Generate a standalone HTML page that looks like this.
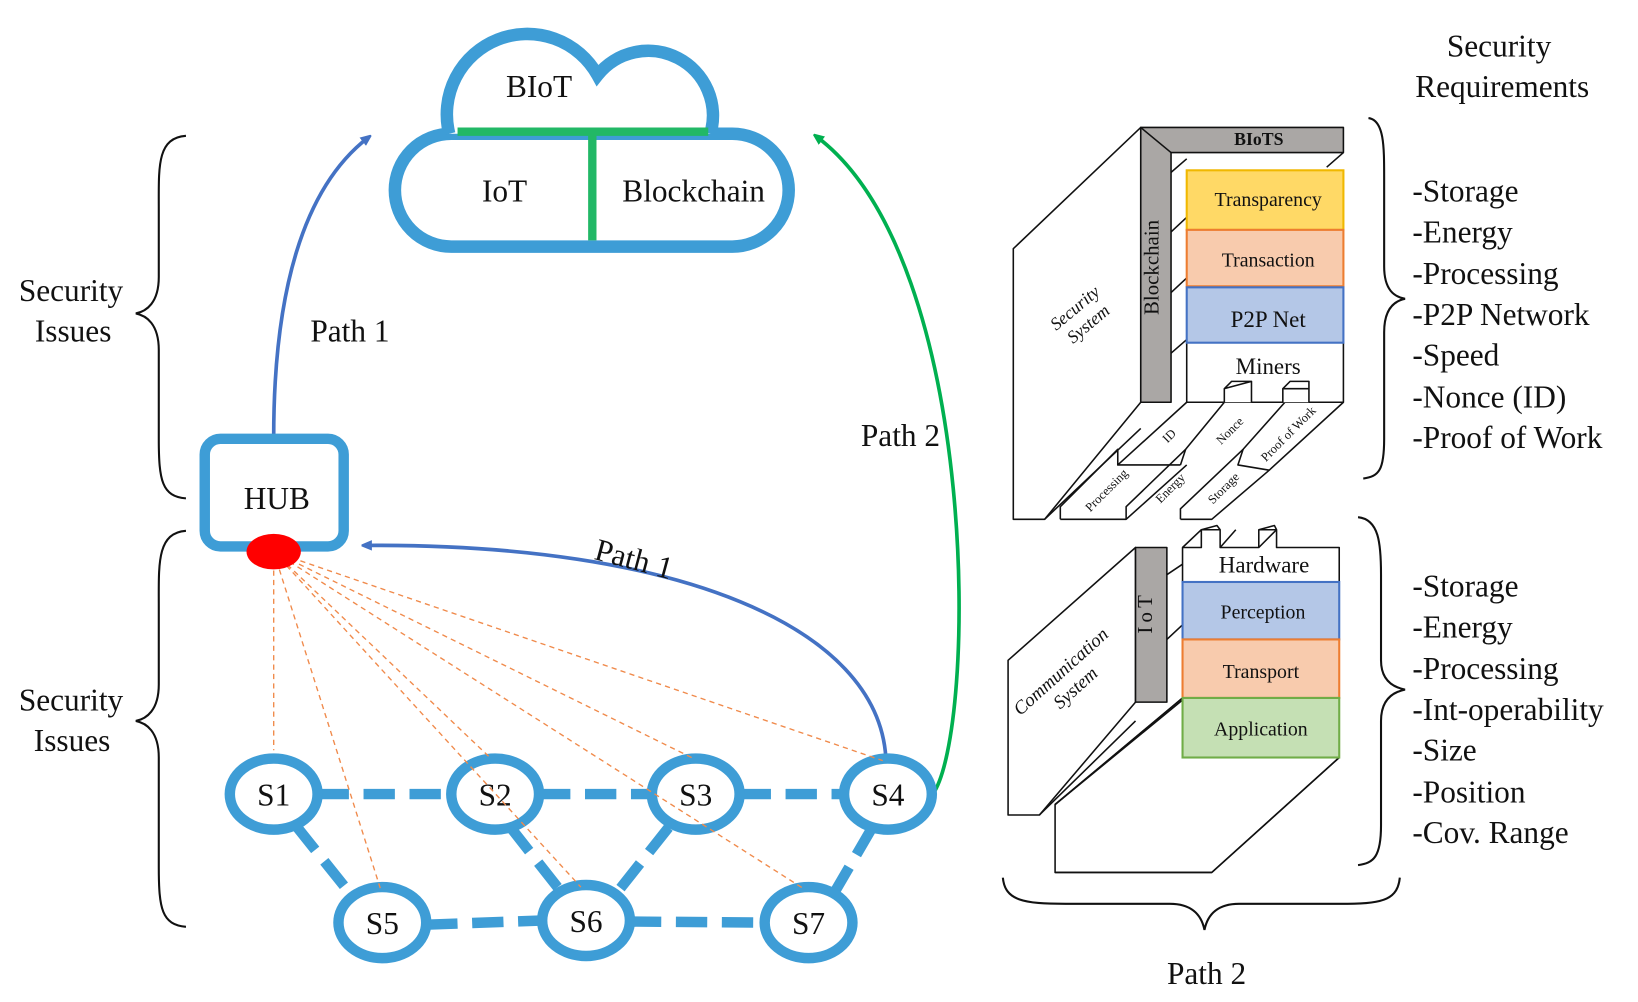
<!DOCTYPE html>
<html><head><meta charset="utf-8"><style>
html,body{margin:0;padding:0;background:#fff;}
svg{display:block;}
text{font-family:"Liberation Serif",serif;fill:#111;}
</style></head><body>
<svg width="1638" height="1002" viewBox="0 0 1568 959" preserveAspectRatio="none" xmlns="http://www.w3.org/2000/svg">
<defs>
<marker id="ab" markerWidth="10" markerHeight="10" refX="6" refY="5" orient="auto" markerUnits="userSpaceOnUse"><path d="M0,0 L12,5 L0,10 Z" fill="#4472c4"/></marker>
<marker id="ag" markerWidth="10" markerHeight="10" refX="6" refY="5" orient="auto" markerUnits="userSpaceOnUse"><path d="M0,0 L12,5 L0,10 Z" fill="#00b050"/></marker>
</defs>
<!-- cloud -->
<g fill="none" stroke="#3e9dd6" stroke-width="12">
<rect x="378" y="128" width="377" height="108" rx="54" fill="#fff"/>
<path d="M430,128 A77,77 0 0 1 572,72 A62,62 0 0 1 680,128" fill="#fff"/>
</g>
<path d="M438,126 L678,126 M567,126 L567,230" stroke="#22b866" stroke-width="8" fill="none"/>
<text x="516" y="93" font-size="30" text-anchor="middle">BIoT</text>
<text x="483" y="193" font-size="30" text-anchor="middle">IoT</text>
<text x="664" y="193" font-size="30" text-anchor="middle">Blockchain</text>
<!-- arrows -->
<path d="M262,418 C262,280 290,180 352,132" stroke="#4472c4" stroke-width="3.5" fill="none" marker-end="url(#ab)"/>
<path d="M848,725 C840,600 650,520 350,522" stroke="#4472c4" stroke-width="3.5" fill="none" marker-end="url(#ab)"/>
<path d="M893,760 C935,700 940,250 782,131" stroke="#00b050" stroke-width="3.5" fill="none" marker-end="url(#ag)"/>
<!-- HUB -->
<rect x="196" y="420" width="133" height="103" rx="15" fill="#fff" stroke="#3e9dd6" stroke-width="10"/>
<text x="265" y="487" font-size="30" text-anchor="middle">HUB</text>
<!-- dashed links -->
<g stroke="#3e9dd6" stroke-width="10" stroke-dasharray="30,14" fill="none">
<path d="M304,760 L432,760"/><path d="M516,760 L624,760"/><path d="M708,760 L808,760"/>
<path d="M283,790 L335,855"/><path d="M408,885 L519,881"/><path d="M603,882 L732,883"/>
<path d="M488,791 L536,852"/><path d="M640,792 L590,855"/><path d="M835,792 L800,852"/>
</g>
<!-- nodes -->
<g fill="#fff" stroke="#3e9dd6" stroke-width="10">
<ellipse cx="262" cy="760" rx="42" ry="34"/><ellipse cx="474" cy="760" rx="42" ry="34"/>
<ellipse cx="666" cy="760" rx="42" ry="34"/><ellipse cx="850" cy="760" rx="42" ry="34"/>
<ellipse cx="366" cy="883" rx="42" ry="34"/><ellipse cx="561" cy="881" rx="42" ry="34"/>
<ellipse cx="774" cy="883" rx="42" ry="34"/>
</g>
<g font-size="30" text-anchor="middle">
<text x="262" y="771">S1</text><text x="474" y="771">S2</text><text x="666" y="771">S3</text><text x="850" y="771">S4</text>
<text x="366" y="894">S5</text><text x="561" y="892">S6</text><text x="774" y="894">S7</text>
</g>
<!-- orange rays -->
<g stroke="#f08a4b" stroke-width="1.3" stroke-dasharray="5,4" fill="none">
<path d="M262,528 L262,718"/><path d="M262,528 L364,850"/><path d="M262,528 L470,726"/>
<path d="M262,528 L556,849"/><path d="M262,528 L664,726"/><path d="M262,528 L770,851"/><path d="M262,528 L845,728"/>
</g>
<ellipse cx="262" cy="528" rx="26" ry="17" fill="#f00"/>
<!-- labels -->
<text x="335" y="327" font-size="30" text-anchor="middle">Path 1</text>
<text x="607" y="545" font-size="30" text-anchor="middle" transform="rotate(15 607 535)">Path 1</text>
<text x="862" y="427" font-size="30" text-anchor="middle">Path 2</text>
<text x="1155" y="942" font-size="30" text-anchor="middle">Path 2</text>
<g font-size="30" text-anchor="middle">
<text x="68" y="288">Security</text><text x="70" y="327">Issues</text>
<text x="68" y="680">Security</text><text x="69" y="719">Issues</text>
<text x="1435" y="54">Security</text><text x="1438" y="93">Requirements</text>
</g>
<g font-size="30">
<text x="1352" y="193">-Storage</text><text x="1352" y="232">-Energy</text><text x="1352" y="272">-Processing</text>
<text x="1352" y="311">-P2P Network</text><text x="1352" y="350">-Speed</text><text x="1352" y="390">-Nonce (ID)</text>
<text x="1352" y="429">-Proof of Work</text>
<text x="1352" y="571">-Storage</text><text x="1352" y="610">-Energy</text><text x="1352" y="650">-Processing</text>
<text x="1352" y="689">-Int-operability</text><text x="1352" y="728">-Size</text><text x="1352" y="768">-Position</text>
<text x="1352" y="807">-Cov. Range</text>
</g>
<!-- braces -->
<g stroke="#111" stroke-width="2" fill="none">
<path d="M178,130 C150,132 152,160 152,200 L152,265 C152,290 140,298 130,300 C140,302 152,310 152,335 L152,420 C152,460 155,475 178,477"/>
<path d="M178,508 C150,510 152,540 152,580 L152,655 C152,680 140,688 130,690 C140,692 152,700 152,725 L152,830 C152,870 155,885 178,887"/>
<path d="M1310,113 C1325,115 1325,140 1325,170 L1325,255 C1325,278 1335,284 1345,286 C1335,288 1325,295 1325,318 L1325,420 C1325,450 1320,456 1305,458"/>
<path d="M1300,495 C1320,497 1322,520 1322,550 L1322,632 C1322,652 1335,658 1345,660 C1335,662 1322,668 1322,690 L1322,790 C1322,820 1315,826 1300,828"/>
<path d="M960,840 C962,862 980,865 1020,865 L1120,865 C1140,865 1150,875 1153,890 C1156,875 1166,865 1186,865 L1290,865 C1325,865 1338,860 1340,840"/>
</g>
<!-- top 3D block -->
<g stroke="#111" stroke-width="1.5" stroke-linejoin="round">
<path d="M970,238 L1092,122 L1092,385 L1000,497 L970,497 Z" fill="#fff"/>
<path d="M1000,497 L1092,410" fill="none"/>
<path d="M1015,497 L1015,485 L1070,430 L1070,445 L1136,385" fill="none"/>
<path d="M1015,497 L1078,497 L1136,445" fill="#fff"/>
<path d="M1078,497 L1078,485 L1135,430 L1172,385 M1130,497 L1130,487 L1190,430 L1230,385" fill="none"/>
<path d="M1130,497 L1160,497 L1215,450 L1286,385" fill="none"/>
<path d="M1070,445 L1130,445 M1135,430 L1130,445 M1190,430 L1185,445 L1215,450" fill="none"/>
<path d="M1121,165 L1136,152 M1121,222 L1136,208 M1121,280 L1136,266 M1121,338 L1136,325 M1270,160 L1286,146" fill="none"/>
<path d="M1092,122 L1286,122 L1286,146 L1121,146 L1121,385 L1092,385 Z" fill="#aaa7a5"/>
<path d="M1092,122 L1121,146" fill="none"/>
<rect x="1136" y="328" width="150" height="57" fill="#fff"/>
<path d="M1172,385 L1172,372 L1198,365 L1198,385 M1172,372 L1179,365 L1198,365 M1228,385 L1228,372 L1235,365 L1253,365 L1253,385 M1228,372 L1253,372" fill="#fff"/>
</g>
<rect x="1136" y="163" width="150" height="57" fill="#ffd966" stroke="#f0b800" stroke-width="2"/>
<rect x="1136" y="220" width="150" height="54" fill="#f8cbad" stroke="#ed7d31" stroke-width="2"/>
<rect x="1136" y="275" width="150" height="53" fill="#b4c7e7" stroke="#4472c4" stroke-width="2"/>
<text x="1205" y="139" font-size="17" font-weight="bold" text-anchor="middle">BIoTS</text>
<text x="1214" y="197" font-size="19" text-anchor="middle">Transparency</text>
<text x="1214" y="255" font-size="19" text-anchor="middle">Transaction</text>
<text x="1214" y="313" font-size="22" text-anchor="middle">P2P Net</text>
<text x="1214" y="358" font-size="22" text-anchor="middle">Miners</text>
<text x="1115" y="262" font-size="20" text-anchor="middle" transform="rotate(-90 1109 262)">Blockchain</text>
<g font-size="17" text-anchor="middle" font-style="italic" fill="#444">
<text transform="translate(1035,302) rotate(-40)"><tspan x="0" y="-4">Security</tspan><tspan x="0" y="16">System</tspan></text>
</g>
<g font-size="12" text-anchor="middle">
<text transform="translate(1062,472) rotate(-45)">Processing</text>
<text transform="translate(1122,420) rotate(-45)">ID</text>
<text transform="translate(1123,470) rotate(-45)">Energy</text>
<text transform="translate(1180,415) rotate(-45)">Nonce</text>
<text transform="translate(1174,470) rotate(-45)">Storage</text>
<text transform="translate(1236,418) rotate(-45)">Proof of Work</text>
</g>
<!-- bottom 3D block -->
<g stroke="#111" stroke-width="1.5" stroke-linejoin="round">
<path d="M1010,835 L1010,770 L1132,668 L1282,725 L1160,835 Z" fill="#fff"/>
<path d="M1010,835 L1160,835 L1282,725 M1010,770 L1132,668" fill="none"/>
<path d="M965,632 L1087,524 L1087,672 L995,780 L965,780 Z" fill="#fff"/>
<path d="M995,780 L1087,690 M1010,770 L1132,670 M1117,550 L1132,540 M1117,612 L1132,598" fill="none"/>
<rect x="1087" y="524" width="30" height="148" fill="#aaa7a5"/>
<path d="M1132,557 L1132,524 L1150,524 L1150,507 L1168,507 L1168,524 L1205,524 L1205,507 L1222,507 L1222,524 L1282,524 L1282,557 Z" fill="#fff"/>
<path d="M1132,524 L1150,507 M1168,524 L1183,507 M1205,524 L1222,507 M1150,507 L1165,503 L1168,507 M1205,507 L1220,503 L1222,507" fill="none"/>
</g>
<rect x="1132" y="557" width="150" height="55" fill="#b4c7e7" stroke="#4472c4" stroke-width="2"/>
<rect x="1132" y="612" width="150" height="56" fill="#f8cbad" stroke="#ed7d31" stroke-width="2"/>
<rect x="1132" y="668" width="150" height="57" fill="#c5e0b4" stroke="#70ad47" stroke-width="2"/>
<text x="1210" y="548" font-size="22" text-anchor="middle">Hardware</text>
<text x="1209" y="592" font-size="19" text-anchor="middle">Perception</text>
<text x="1207" y="649" font-size="19" text-anchor="middle">Transport</text>
<text x="1207" y="704" font-size="19" text-anchor="middle">Application</text>
<text x="1109" y="592" font-size="20" text-anchor="middle" transform="rotate(-90 1103 592)" letter-spacing="4">IoT</text>
<g font-size="18" text-anchor="middle" font-style="italic" fill="#444">
<text transform="translate(1022,650) rotate(-42)"><tspan x="0" y="-4">Communication</tspan><tspan x="0" y="17">System</tspan></text>
</g>
</svg>
</body></html>
